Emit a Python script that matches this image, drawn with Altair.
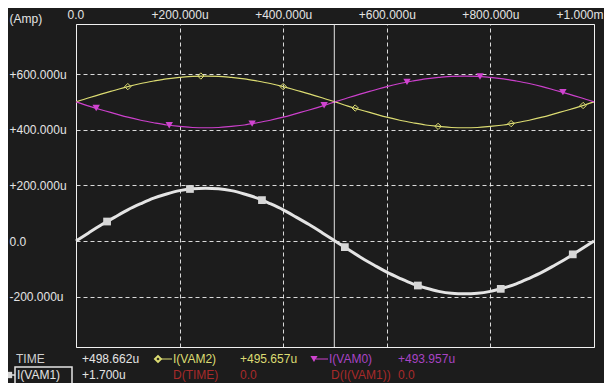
import altair as alt
import pandas as pd

# time axis, in microseconds
time_us = [0, 25, 50, 75, 100, 125, 150, 175, 200, 225, 250, 275, 300, 325, 350, 375, 400, 425, 450, 475,
           500, 525, 550, 575, 600, 625, 650, 675, 700, 725, 750, 775, 800, 825, 850, 875, 900, 925, 950, 975, 1000]

# I(VAM1) in uA (thick white trace)
i_vam1 = [0, 30, 59, 86, 112, 134, 154, 169, 181, 188, 190, 188, 181, 169, 154, 134, 112, 86, 59, 30,
          0, -30, -59, -86, -112, -134, -154, -169, -181, -188, -190, -188, -181, -169, -154, -134, -112, -86, -59, -30, 0]

# I(VAM2) in uA (yellow trace)
i_vam2 = [500, 515, 529, 542, 555, 566, 575, 583, 588, 592, 593, 592, 588, 583, 575, 566, 555, 542, 529, 515,
          500, 485, 471, 458, 445, 434, 425, 417, 412, 408, 407, 408, 412, 417, 425, 434, 445, 458, 471, 485, 500]

# I(VAM0) in uA (magenta trace)
i_vam0 = [500, 485, 471, 458, 445, 434, 425, 417, 412, 408, 407, 408, 412, 417, 425, 434, 445, 458, 471, 485,
          500, 515, 529, 542, 555, 566, 575, 583, 588, 592, 593, 592, 588, 583, 575, 566, 555, 542, 529, 515, 500]

# marker points on each trace
m1_t = [60, 220, 359, 519, 660, 820, 959]
m1_v = [70, 187, 147, -22, -160, -172, -48]
m2_t = [100, 241, 400, 539, 699, 840, 979]
m2_v = [555, 593, 555, 478, 412, 422, 487]
m0_t = [39, 180, 340, 479, 639, 780, 940]
m0_v = [478, 416, 422, 488, 572, 591, 535]

cursor_t = [498.662]

x_ticks = [0, 200, 400, 600, 800, 1000]
y_ticks = [-200, 0, 200, 400, 600]

legend_row1 = ["TIME", "+498.662u", "I(VAM2)", "+495.657u", "I(VAM0)", "+493.957u"]
legend_row2 = ["I(VAM1)", "+1.700u", "D(TIME)", "0.0", "D(I(VAM1))", "0.0"]

WHITE = "#e4e4e4"
YELLOW = "#dcdc72"
MAGENTA = "#cc40cc"
MAG_TXT = "#a844c4"
RED = "#a82a2a"
FONT = "Liberation Sans"

xs = alt.Scale(domain=[0, 1000], nice=False, zero=False)
ys = alt.Scale(domain=[-381, 780], nice=False, zero=False)

x_axis = alt.Axis(orient="top", values=x_ticks, title=None, grid=True, ticks=False, domain=False,
                  labelExpr="datum.value == 0 ? '0.0' : (datum.value >= 1000 ? '+1.000m' : '+' + format(datum.value, '.3f') + 'u')",
                  labelFlush=True, labelFlushOffset=9, labelOverlap=False, labelBaseline="alphabetic", labelPadding=6)
y_axis = alt.Axis(orient="left", values=y_ticks, title="(Amp)", grid=True, ticks=False, domain=False,
                  labelExpr="datum.value == 0 ? '0.0' : (datum.value > 0 ? '+' : '-') + format(abs(datum.value), '.3f') + 'u'",
                  labelAlign="left", labelPadding=67, labelOverlap=False, labelFlush=False,
                  titleAngle=0, titleAlign="left", titleBaseline="middle", titleX=-67, titleY=-6,
                  titleFontWeight="normal", titleFontSize=12, titleColor=WHITE, titleFont=FONT)

df = pd.DataFrame({"t": time_us, "vam1": i_vam1, "vam2": i_vam2, "vam0": i_vam0})

base = alt.Chart(df)
line2 = base.mark_line(color=YELLOW, strokeWidth=1.2, interpolate="monotone").encode(
    x=alt.X("t:Q", scale=xs, axis=x_axis), y=alt.Y("vam2:Q", scale=ys, axis=y_axis))
line0 = base.mark_line(color=MAGENTA, strokeWidth=1.2, interpolate="monotone").encode(
    x=alt.X("t:Q", scale=xs), y=alt.Y("vam0:Q", scale=ys))
line1 = base.mark_line(color=WHITE, strokeWidth=3, interpolate="monotone").encode(
    x=alt.X("t:Q", scale=xs), y=alt.Y("vam1:Q", scale=ys))

mk1 = alt.Chart(pd.DataFrame({"t": m1_t, "v": m1_v})).mark_point(
    shape="square", filled=True, color="#d6d6d6", size=60, opacity=1).encode(
    x=alt.X("t:Q", scale=xs), y=alt.Y("v:Q", scale=ys))
mk2 = alt.Chart(pd.DataFrame({"t": m2_t, "v": m2_v})).mark_point(
    shape="diamond", filled=False, color=YELLOW, size=40, strokeWidth=1, opacity=1).encode(
    x=alt.X("t:Q", scale=xs), y=alt.Y("v:Q", scale=ys))
mk0 = alt.Chart(pd.DataFrame({"t": m0_t, "v": m0_v})).mark_point(
    shape="triangle-down", filled=True, color="#d044d0", size=55, opacity=1).encode(
    x=alt.X("t:Q", scale=xs), y=alt.Y("v:Q", scale=ys))

cursor = alt.Chart(pd.DataFrame({"t": cursor_t})).mark_rule(color=WHITE, strokeWidth=1).encode(
    x=alt.X("t:Q", scale=xs))

one = pd.DataFrame({"a": [0]})


def txt(s, px, py, color):
    return alt.Chart(one).mark_text(text=s, align="left", baseline="middle", font=FONT,
                                    fontSize=12, color=color).encode(x=alt.value(px), y=alt.value(py))


R1, R2 = 335, 351
legend = [
    txt(legend_row1[0], -60, R1, "#d0d0d0"),
    txt(legend_row1[1], 6, R1, WHITE),
    txt(legend_row1[2], 97, R1, YELLOW),
    txt(legend_row1[3], 164, R1, YELLOW),
    txt(legend_row1[4], 253, R1, MAG_TXT),
    txt(legend_row1[5], 322, R1, MAG_TXT),
    txt(legend_row2[0], -59, R2, WHITE),
    txt(legend_row2[1], 6, R2, WHITE),
    txt(legend_row2[2], 97, R2, RED),
    txt(legend_row2[3], 164, R2, RED),
    txt(legend_row2[4], 255, R2, RED),
    txt(legend_row2[5], 322, R2, RED),
]

# legend symbols
sym_lines = [
    alt.Chart(one).mark_rule(color=YELLOW, strokeWidth=1).encode(x=alt.value(84), x2=alt.value(96), y=alt.value(R1)),
    alt.Chart(one).mark_rule(color=MAGENTA, strokeWidth=1).encode(x=alt.value(240), x2=alt.value(252), y=alt.value(R1)),
    alt.Chart(one).mark_rule(color=WHITE, strokeWidth=1.5).encode(x=alt.value(-68), x2=alt.value(-61), y=alt.value(R2)),
]
sym_pts = [
    alt.Chart(one).mark_point(shape="diamond", filled=False, color=YELLOW, size=35, opacity=1).encode(
        x=alt.value(82), y=alt.value(R1)),
    alt.Chart(one).mark_point(shape="triangle-down", filled=True, color="#d044d0", size=50, opacity=1).encode(
        x=alt.value(238), y=alt.value(R1)),
    alt.Chart(one).mark_point(shape="square", filled=True, color="#d6d6d6", size=40, opacity=1).encode(
        x=alt.value(-67), y=alt.value(R2)),
]
box = alt.Chart(one).mark_rect(fill=None, stroke=WHITE, strokeWidth=1.5).encode(
    x=alt.value(-61), x2=alt.value(-4), y=alt.value(343), y2=alt.value(368))

chart = alt.layer(line2, line0, line1, mk1, mk2, mk0, cursor, box, *sym_lines, *sym_pts, *legend).properties(
    width=518, height=323,
    padding={"left": 68, "top": 16, "right": 10, "bottom": 36},
    autosize=alt.AutoSizeParams(type="none"),
    background="#1c1c1c",
).configure_view(
    stroke="#f0f0f0", strokeWidth=1, fill="#1c1c1c"
).configure_axis(
    gridColor="#f0f0f0", gridDash=[4, 3], gridWidth=1, gridOpacity=0.9,
    labelColor=WHITE, labelFont=FONT, labelFontSize=12
)

chart.save("out.html", embed_options={"renderer": "svg", "actions": False})
